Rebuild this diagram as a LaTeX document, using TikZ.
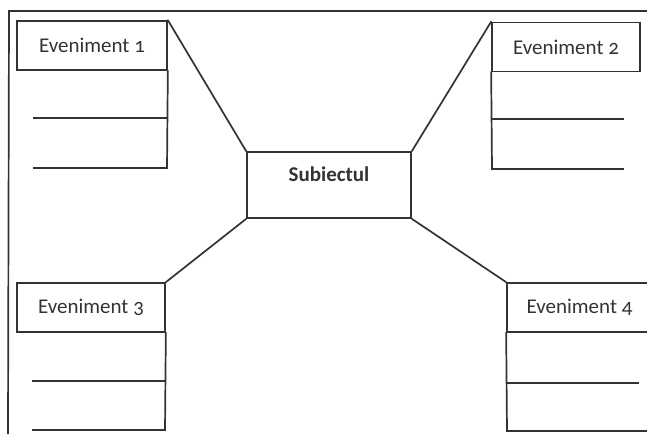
\documentclass[tikz,border=0pt]{standalone}
\usepackage{fontspec}
\setmainfont[Numbers=OldStyle]{Carlito}
\begin{document}
\begin{tikzpicture}[x=1pt,y=-1pt,
  ink/.style={draw=black!80, line width=1.7pt},
  headbox/.style={ink, rectangle, inner sep=0pt, minimum height=49pt, text=black!80, font=\fontsize{21}{24}\selectfont},
  topicbox/.style={ink, rectangle, inner sep=0pt, minimum width=164pt, minimum height=66pt},
  topictext/.style={font=\fontsize{21}{24}\selectfont\bfseries, text=black!80, inner sep=0pt},
  rule/.style={ink, line cap=rect},
  link/.style={ink, line cap=round}]
\useasboundingbox (0,0) rectangle (647,434);
\clip (0,0) rectangle (647,434);

% page frame (top and left edge only)
\draw[ink] (647,11) -- (9,11) -- (8,434);

% central topic
\node[topicbox] (subj) at (329,185) {};
\node[topictext] (subjtext) at (329,174) {Subiectul};

% event headers
\node[headbox, minimum width=150pt] (ev1) at (92,45.5) {Eveniment 1};
\node[headbox, minimum width=148pt] (ev2) at (566,47) {Eveniment 2};
\node[headbox, minimum width=148pt] (ev3) at (91,307.5) {Eveniment 3};
\node[headbox, minimum width=145pt] (ev4) at (579.5,307.5) {Eveniment 4};

% writing lines under each header
\draw[rule] (ev1.south east) -- (167,168) -- (34,168);
\draw[rule] (34,118) -- (167,118);

\draw[rule] (ev2.south west) -- (492,169) -- (623,169);
\draw[rule] (492,119) -- (623,119);

\draw[rule] (ev3.south east) -- (165,430) -- (33,430);
\draw[rule] (33,381) -- (165,381);

\draw[rule] (ev4.south west) -- (507,431) -- (652,431);
\draw[rule] (507,383) -- (638,383);

% connectors from the topic to the events
\draw[link] (subj.north west) -- (ev1.north east);
\draw[link] (subj.north east) -- (ev2.north west);
\draw[link] (subj.south west) -- (ev3.north east);
\draw[link] (subj.south east) -- (ev4.north west);
\end{tikzpicture}
\end{document}
